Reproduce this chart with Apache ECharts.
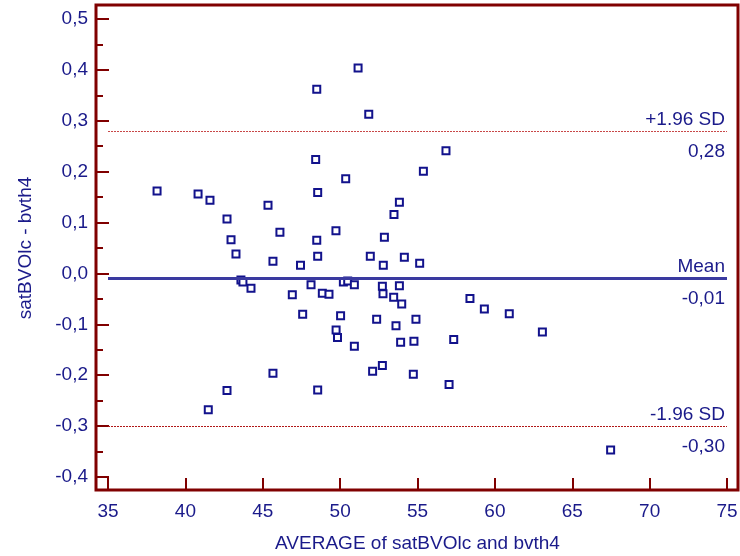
<!DOCTYPE html>
<html>
<head>
<meta charset="utf-8">
<title>Bland-Altman satBVOlc - bvth4</title>
<script src="https://cdn.jsdelivr.net/npm/echarts@6/dist/echarts.min.js"></script>
<style>
  html, body { margin: 0; padding: 0; background: #fff; }
  #chart { width: 740px; height: 556px; }
</style>
</head>
<body>
<div id="chart"></div>
<script>
// average of the two methods (x) and their difference (y)
const avgVals = [
  38.17, 40.82, 41.59, 42.69, 42.95, 43.27, 43.59, 43.72, 44.24, 45.34,
  46.11, 45.66, 47.44, 46.91, 48.42, 50.36, 48.55, 56.84, 55.38, 53.83,
  53.48, 49.73, 48.49, 52.86, 48.55, 51.95, 54.15, 52.79, 55.14, 48.12,
  48.85, 49.28, 50.21, 50.49, 50.92, 52.73, 52.77, 53.83, 53.46, 53.98,
  47.58, 50.03, 52.36, 54.90, 53.61, 49.74, 49.83, 50.92, 53.91, 54.77,
  57.34, 52.73, 52.10, 54.73, 57.04, 48.55, 45.66, 42.69, 41.48, 58.39,
  59.32, 60.93, 63.07, 67.48, 51.16, 48.49, 51.85
];
const diffVals = [
  0.162, 0.156, 0.144, 0.107, 0.066, 0.038, -0.013, -0.017, -0.029, 0.134,
  0.081, 0.024, 0.016, -0.042, 0.224, 0.186, 0.159, 0.241, 0.201, 0.140,
  0.116, 0.084, 0.065, 0.071, 0.034, 0.034, 0.032, 0.016, 0.020, -0.022,
  -0.039, -0.041, -0.017, -0.015, -0.022, -0.025, -0.040, -0.024, -0.047, -0.060,
  -0.080, -0.083, -0.090, -0.090, -0.103, -0.111, -0.126, -0.143, -0.135, -0.133,
  -0.130, -0.181, -0.192, -0.198, -0.218, -0.229, -0.196, -0.230, -0.268, -0.049,
  -0.070, -0.079, -0.115, -0.347, 0.4035, 0.362, 0.313
];

// mean and limits of agreement
const refNames  = ['+1.96 SD', 'Mean', '-1.96 SD'];
const refValues = [0.285, -0.005, -0.297];
const refTexts  = ['0,28', '-0,01', '-0,30'];

const xTicks = [35, 75, 5];      // min, max, interval
const yTicks = [-0.4, 0.5, 0.1];

const navy = '#1a1a8a';
const frame = '#800000';
const font = '"Liberation Sans", Arial, sans-serif';

const points = avgVals.map((x, i) => [x, diffVals[i]]);

// two markLine items per level: line + name above, hidden line + value below
const refLines = [];
refValues.forEach((v, i) => {
  const isMean = refNames[i] === 'Mean';
  const style = isMean
    ? { color: '#3a3aa0', width: 3, type: 'solid' }
    : { color: i === 0 ? '#c84848' : '#b01818', width: 1, type: [2, 1] };
  refLines.push({
    yAxis: v,
    lineStyle: style,
    label: { show: true, position: 'insideEndTop', formatter: refNames[i], distance: [2, 2] }
  });
  refLines.push({
    yAxis: v,
    lineStyle: { color: 'rgba(0,0,0,0)', width: 0 },
    label: { show: true, position: 'insideEndBottom', formatter: refTexts[i], distance: [2, 11] }
  });
});

const chart = echarts.init(document.getElementById('chart'));

const option = {
  animation: false,
  backgroundColor: '#fff',
  textStyle: { fontFamily: font },
  grid: { left: 108, right: 13, top: 19, bottom: 79, containLabel: false, outerBoundsMode: 'none' },
  xAxis: {
    type: 'value',
    min: xTicks[0],
    max: xTicks[1],
    interval: xTicks[2],
    offset: 13,
    name: 'AVERAGE of satBVOlc and bvth4',
    nameLocation: 'middle',
    nameGap: 44,
    nameTextStyle: { color: navy, fontSize: 19, fontFamily: font },
    axisLine: { show: false, onZero: false },
    axisTick: { show: true, inside: true, length: 12, lineStyle: { color: frame, width: 2 } },
    axisLabel: { color: navy, fontSize: 19, fontFamily: font, margin: 12 },
    splitLine: { show: false }
  },
  yAxis: {
    type: 'value',
    min: yTicks[0],
    max: yTicks[1],
    interval: yTicks[2],
    offset: 12,
    name: 'satBVOlc - bvth4',
    nameLocation: 'middle',
    nameGap: 61,
    nameTextStyle: { color: navy, fontSize: 19, fontFamily: font },
    axisLine: { show: false, onZero: false },
    axisTick: { show: true, inside: true, length: 13, lineStyle: { color: frame, width: 2 } },
    minorTick: { show: true, splitNumber: 2, length: 7, lineStyle: { color: frame, width: 2 } },
    axisLabel: {
      color: navy, fontSize: 19, fontFamily: font, margin: 8,
      formatter: v => v.toFixed(1).replace('.', ',')
    },
    splitLine: { show: false },
    minorSplitLine: { show: false }
  },
  graphic: [{
    type: 'rect',
    shape: { x: 96, y: 5, width: 642, height: 485 },
    style: { fill: null, stroke: frame, lineWidth: 3 },
    silent: true,
    z: 10
  }],
  series: [{
    type: 'scatter',
    data: points,
    symbol: 'rect',
    symbolSize: 7,
    itemStyle: { color: '#fff', borderColor: '#12128c', borderWidth: 2, opacity: 1 },
    markLine: {
      silent: true,
      symbol: 'none',
      animation: false,
      label: { color: navy, fontSize: 19, fontFamily: font },
      emphasis: { disabled: true },
      data: refLines
    }
  }]
};

chart.setOption(option);
</script>
</body>
</html>
